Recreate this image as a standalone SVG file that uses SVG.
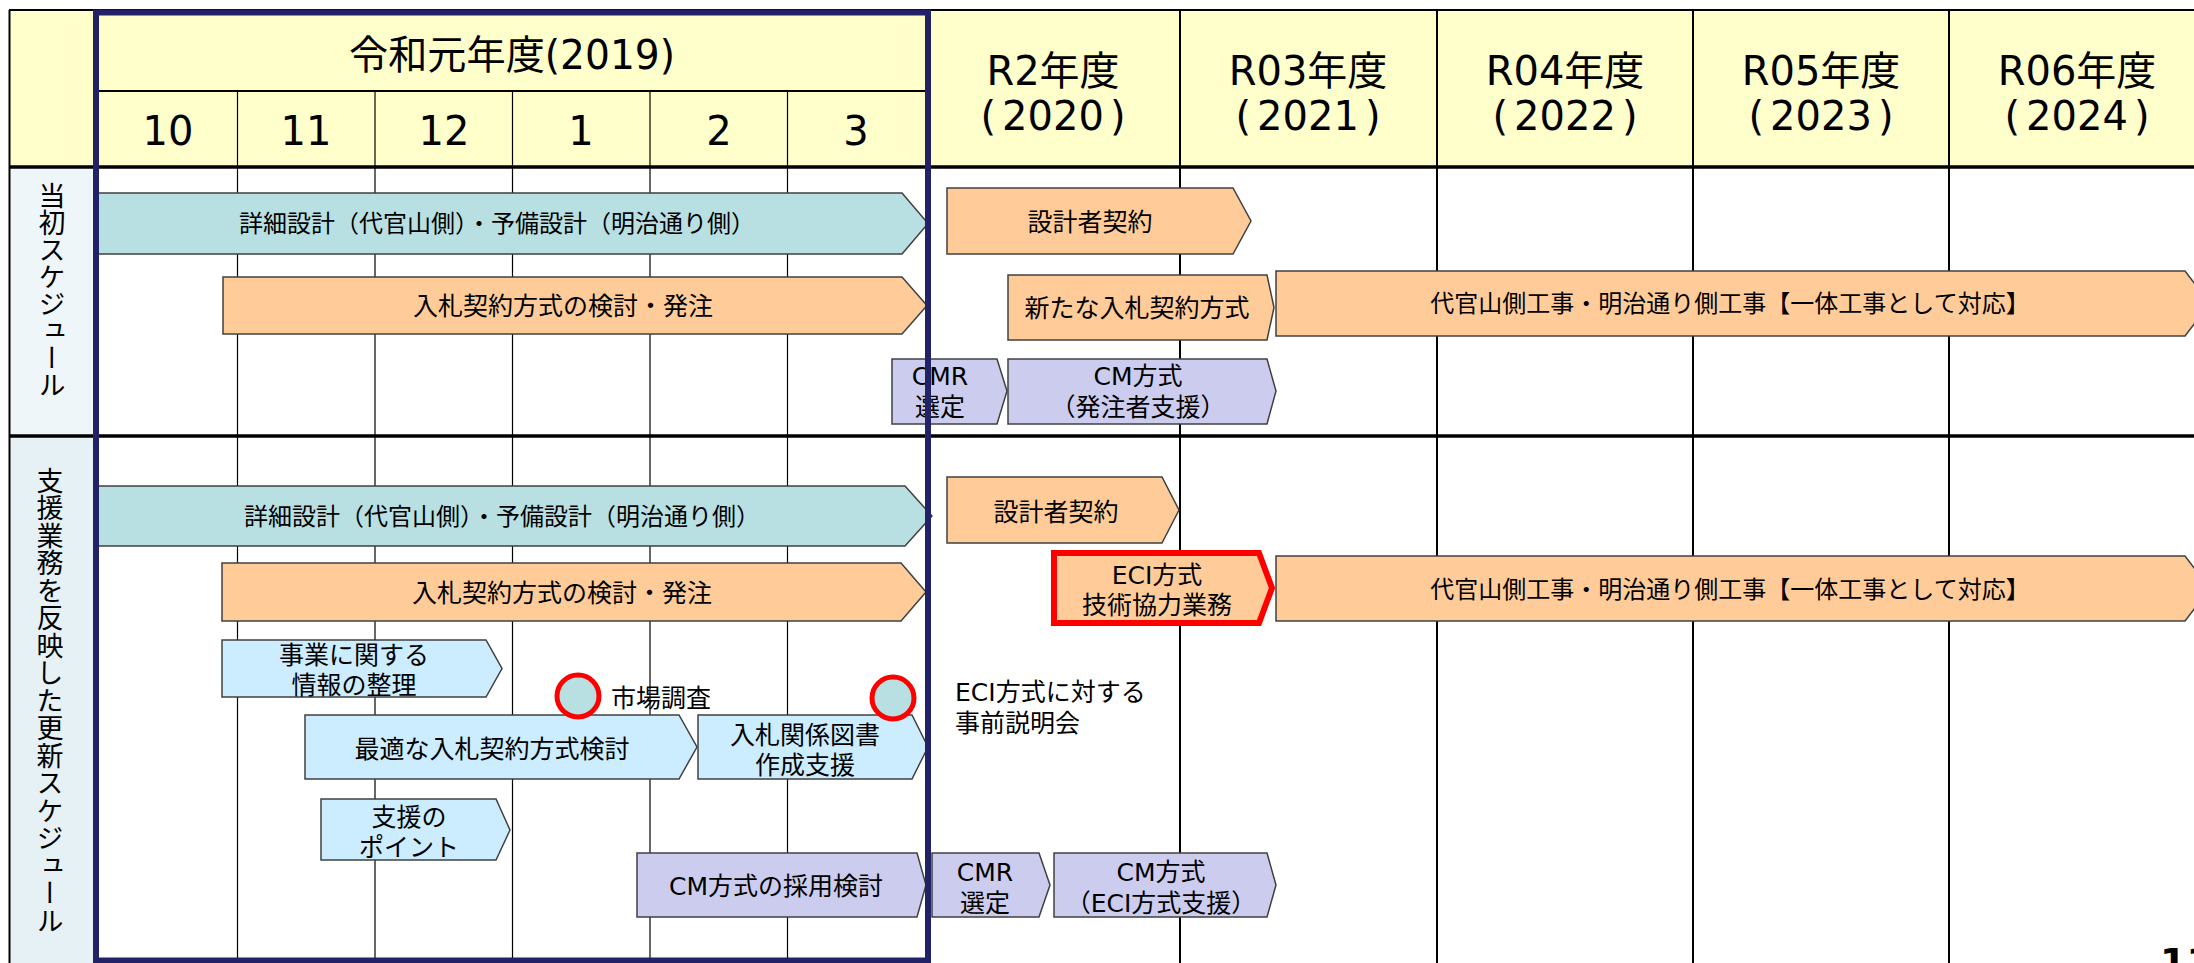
<svg xmlns="http://www.w3.org/2000/svg" width="2194" height="963" viewBox="0 0 2194 963">
<style>
text{font-family:"DejaVu Sans","Noto Sans CJK JP",sans-serif;fill:#000;}
.hd{font-size:40px;text-anchor:middle;}
.mo{font-size:40px;text-anchor:middle;}
.t{font-size:25px;text-anchor:middle;dominant-baseline:central;}
.t24{font-size:24px;text-anchor:middle;dominant-baseline:central;}
.tl{font-size:25px;dominant-baseline:central;}
.vt{font-size:27px;writing-mode:vertical-rl;font-family:"Noto Sans CJK JP",sans-serif;}
.teal{fill:#B8DFE1;stroke:#404040;stroke-width:1.5;}
.org{fill:#FFCC99;stroke:#404040;stroke-width:1.5;}
.lb{fill:#CCECFF;stroke:#404040;stroke-width:1.5;}
.lav{fill:#CCCCEE;stroke:#404040;stroke-width:1.5;}
.red{fill:#FFCC99;stroke:#FF0000;stroke-width:6;}
.dot{fill:#B8DFE1;stroke:#FF0000;stroke-width:5;}
.thin{stroke:#000;stroke-width:1.2;}
.yr{stroke:#000;stroke-width:2;}
.thk{stroke:#000;stroke-width:3.5;}
</style>
<rect x="0" y="0" width="2194" height="963" fill="#FFFFFF"/>
<g id="grid">
  <rect x="9" y="10" width="2190" height="157" fill="#FFFFCC"/>
  <rect x="9" y="167" width="87" height="269" fill="#EFF6F9"/>
  <rect x="9" y="436" width="87" height="530" fill="#E5F1F4"/>
  <line class="yr" x1="9" y1="10" x2="2194" y2="10"/>
  <line class="yr" x1="9.5" y1="10" x2="9.5" y2="963"/>
  <line class="yr" x1="96" y1="91" x2="928" y2="91"/>
  <line class="thin" x1="237.5" y1="91" x2="237.5" y2="963"/>
  <line class="thin" x1="375" y1="91" x2="375" y2="963"/>
  <line class="thin" x1="512.5" y1="91" x2="512.5" y2="963"/>
  <line class="thin" x1="650" y1="91" x2="650" y2="963"/>
  <line class="thin" x1="787.5" y1="91" x2="787.5" y2="963"/>
  <line class="yr" x1="1180" y1="10" x2="1180" y2="963"/>
  <line class="yr" x1="1437" y1="10" x2="1437" y2="963"/>
  <line class="yr" x1="1693" y1="10" x2="1693" y2="963"/>
  <line class="yr" x1="1949" y1="10" x2="1949" y2="963"/>
  <line class="thk" x1="9" y1="167" x2="2194" y2="167"/>
  <line class="thk" x1="9" y1="436" x2="2194" y2="436"/>
</g>
<g id="header">
  <text class="hd" x="512" y="69" font-size="38" textLength="326" lengthAdjust="spacingAndGlyphs">令和元年度(2019)</text>
  <text class="mo" x="168" y="145">10</text>
  <text class="mo" x="306" y="145">11</text>
  <text class="mo" x="444" y="145">12</text>
  <text class="mo" x="581" y="145">1</text>
  <text class="mo" x="719" y="145">2</text>
  <text class="mo" x="856" y="145">3</text>
  <text class="hd" x="1053" y="85">R2年度</text>
  <text class="hd" x="1053" y="130">(<tspan dx="6">2020</tspan><tspan dx="6">)</tspan></text>
  <text class="hd" x="1308" y="85">R03年度</text>
  <text class="hd" x="1308" y="130">(<tspan dx="6">2021</tspan><tspan dx="6">)</tspan></text>
  <text class="hd" x="1565" y="85">R04年度</text>
  <text class="hd" x="1565" y="130">(<tspan dx="6">2022</tspan><tspan dx="6">)</tspan></text>
  <text class="hd" x="1821" y="85">R05年度</text>
  <text class="hd" x="1821" y="130">(<tspan dx="6">2023</tspan><tspan dx="6">)</tspan></text>
  <text class="hd" x="2077" y="85">R06年度</text>
  <text class="hd" x="2077" y="130">(<tspan dx="6">2024</tspan><tspan dx="6">)</tspan></text>
</g>
<g id="label-initial"><text class="vt" x="52" y="182">当初スケジュール</text></g>
<g id="label-updated"><text class="vt" x="50" y="467" letter-spacing="0.5">支援業務を反映した更新スケジュール</text></g>

<g id="s1-design"><polygon class="teal" points="94,193 902,193 928,223.5 902,254 94,254"/><text class="t24" x="497" y="224">詳細設計（代官山側）・予備設計（明治通り側）</text></g>
<g id="s1-bid"><polygon class="org" points="223,277 902,277 927,305.5 902,334 223,334"/><text class="t" x="563" y="306">入札契約方式の検討・発注</text></g>
<g id="s1-cmr"><polygon class="lav" points="892,359 997,359 1007,391 997,424 892,424"/><text class="t" x="940" y="376">CMR</text><text class="t" x="940" y="407">選定</text></g>
<g id="s1-cm"><polygon class="lav" points="1008,359 1267,359 1276,391 1267,424 1008,424"/><text class="t" x="1138" y="376">CM方式</text><text class="t" x="1138" y="407">（発注者支援）</text></g>
<g id="s1-contract"><polygon class="org" points="947,188 1233,188 1251,221 1233,254 947,254"/><text class="t" x="1090" y="222">設計者契約</text></g>
<g id="s1-newbid"><polygon class="org" points="1008,275 1267,275 1274,307.5 1267,340 1008,340"/><text class="t" x="1137" y="308">新たな入札契約方式</text></g>
<g id="s1-works"><polygon class="org" points="1276,271 2185,271 2210,303.5 2185,336 1276,336"/><text class="t24" x="1730" y="304">代官山側工事・明治通り側工事【一体工事として対応】</text></g>

<g id="s2-design"><polygon class="teal" points="98,486 905,486 932,516 905,546 98,546"/><text class="t24" x="502" y="517">詳細設計（代官山側）・予備設計（明治通り側）</text></g>
<g id="s2-bid"><polygon class="org" points="222,563 901,563 926,592 901,621 222,621"/><text class="t" x="562" y="593">入札契約方式の検討・発注</text></g>
<g id="s2-contract"><polygon class="org" points="947,477 1162,477 1179,510 1162,543 947,543"/><text class="t" x="1056" y="512">設計者契約</text></g>
<g id="s2-eci"><polygon class="red" points="1054,553 1259,553 1272,588 1259,623 1054,623"/><text class="t" x="1157" y="575">ECI方式</text><text class="t" x="1157" y="605">技術協力業務</text></g>
<g id="s2-works"><polygon class="org" points="1276,556 2185,556 2210,588.5 2185,621 1276,621"/><text class="t24" x="1730" y="590">代官山側工事・明治通り側工事【一体工事として対応】</text></g>
<g id="s2-info"><polygon class="lb" points="222,640 486,640 502,668.5 486,697 222,697"/><text class="t" x="354" y="655">事業に関する</text><text class="t" x="354" y="685">情報の整理</text></g>
<g id="s2-optimal"><polygon class="lb" points="305,715 679,715 697,747 679,779 305,779"/><text class="t" x="492" y="749">最適な入札契約方式検討</text></g>
<g id="s2-docs"><polygon class="lb" points="698,715 912,715 928,747 912,779 698,779"/><text class="t" x="805" y="735">入札関係図書</text><text class="t" x="805" y="765">作成支援</text></g>
<g id="s2-points"><polygon class="lb" points="321,799 496,799 510,830 496,860 321,860"/><text class="t" x="409" y="817">支援の</text><text class="t" x="409" y="847">ポイント</text></g>
<g id="s2-cmstudy"><polygon class="lav" points="637,853 917,853 926,885 917,917 637,917"/><text class="t" x="776" y="886">CM方式の採用検討</text></g>
<g id="s2-cmr"><polygon class="lav" points="932,853 1039,853 1050,885 1039,917 932,917"/><text class="t" x="985" y="872">CMR</text><text class="t" x="985" y="903">選定</text></g>
<g id="s2-cm"><polygon class="lav" points="1054,853 1267,853 1276,885 1267,917 1054,917"/><text class="t" x="1161" y="872">CM方式</text><text class="t" x="1161" y="903">（ECI方式支援）</text></g>
<g id="s2-market"><circle class="dot" cx="578" cy="696" r="21"/><text class="tl" x="611" y="698">市場調査</text></g>
<g id="s2-briefing"><circle class="dot" cx="893" cy="698" r="21"/><text class="tl" x="955" y="692">ECI方式に対する</text><text class="tl" x="955" y="723">事前説明会</text></g>
<g id="connectors"></g>
<g id="frame"><rect x="96" y="12.5" width="832" height="948" fill="none" stroke="#222266" stroke-width="6"/></g>
<g id="page"><text x="2160" y="975" font-family="Liberation Sans, sans-serif" font-size="38" font-weight="bold">11</text></g>
</svg>
